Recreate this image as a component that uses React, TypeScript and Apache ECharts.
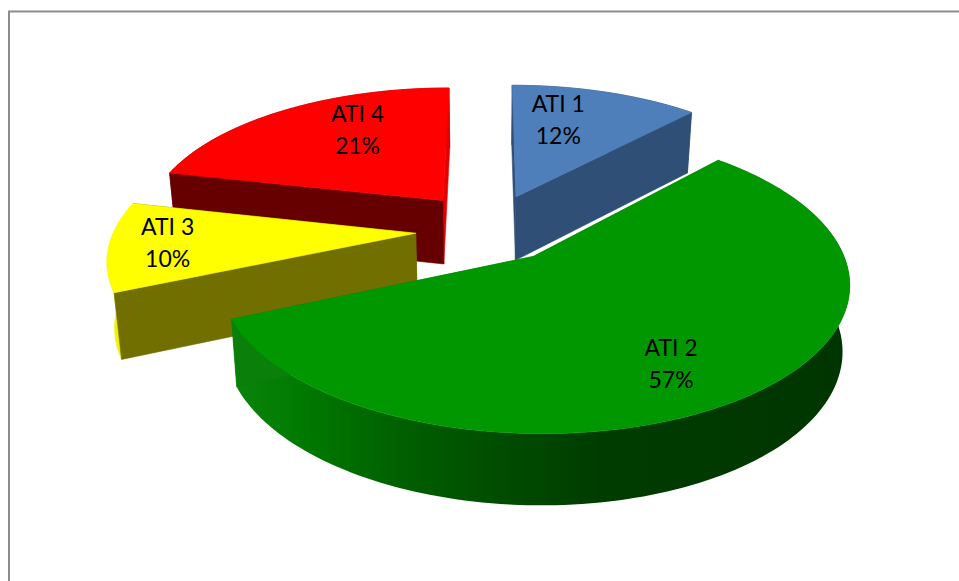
import React, { useEffect, useRef } from "react";
import * as echarts from "echarts";

const categories = ["ATI 1", "ATI 2", "ATI 3", "ATI 4"];
const values = [12, 56.5, 10, 21.49];
const topColors = ["#4e7fbb", "#009700", "#ffff00", "#ff0000"];
const cutColors = ["#2f4f77", "#0a7f0a", "#716f00", "#660000"];
const endCutColors = ["#2f4f77", "#0a7f0a", "#716f00", "#e40000"];
const rimColors = ["#2f4f77", "#006000", "#f2f200", "#8a0000"];
const explodes = [0.235, 0.26, 0.235, 0.235];
const sliceNudges = [
  [0.01, 0],
  [-0.003, 0],
  [-0.005, -0.03],
  [-0.008, 0.007],
];
const drawOrder = [3, 0, 2, 1];
const labelOffsets = [
  [0.171, 0.67],
  [0.38, -0.645],
  [-0.81, -0.059],
  [-0.335, 0.597],
];
const greenShadeStops: [number, string][] = [
  [230, "#0a840a"],
  [300, "#007a00"],
  [400, "#006000"],
  [490, "#004e00"],
  [600, "#003c00"],
  [720, "#003900"],
  [860, "#003400"],
];

const CX = 488, CY = 226, RX = 300, RY = 138, PERSP = 0.16;
const BOTTOM_SHRINK = 0.98;

function project(u: number, v: number): [number, number] {
  const s = 1 / (1 + PERSP * v);
  return [CX + RX * u * s, CY - RY * v * s];
}
function drop(p: [number, number]): [number, number] {
  return [CX + (p[0] - CX) * BOTTOM_SHRINK, p[1] + 60 + (p[1] - 100) * 0.035];
}
const greenWallFill = new echarts.graphic.LinearGradient(
  greenShadeStops[0][0],
  0,
  greenShadeStops[greenShadeStops.length - 1][0],
  0,
  greenShadeStops.map(([x, color]) => ({
    offset: (x - greenShadeStops[0][0]) / (greenShadeStops[greenShadeStops.length - 1][0] - greenShadeStops[0][0]),
    color,
  })),
  true
);

function renderSlice(_params: any, api: any) {
  const idx = api.value(0);
  const total = values.reduce((a, b) => a + b, 0);
  const before = values.slice(0, idx).reduce((a, b) => a + b, 0);
  const a0 = (before / total) * Math.PI * 2;
  const a1 = ((before + api.value(1)) / total) * Math.PI * 2;
  const mid = (a0 + a1) / 2;
  const ou = explodes[idx] * Math.sin(mid) + sliceNudges[idx][0];
  const ov = explodes[idx] * Math.cos(mid) + sliceNudges[idx][1];
  const apex = project(ou, ov);
  const steps = Math.max(8, Math.round((a1 - a0) * 40));
  const arc: [number, number][] = [];
  for (let i = 0; i <= steps; i++) {
    const a = a0 + ((a1 - a0) * i) / steps;
    arc.push(project(ou + Math.sin(a), ov + Math.cos(a)));
  }
  const children: any[] = [];
  const poly = (pts: [number, number][], fill: any, stroke: any) => ({
    type: "polygon",
    silent: true,
    shape: { points: pts },
    style: { fill, stroke, lineWidth: 0.6 },
  });
  const rimFill = idx === 1 ? greenWallFill : rimColors[idx];
  children.push(poly([...arc, ...arc.map(drop).reverse()], rimFill, idx === 1 ? "none" : rimColors[idx]));
  const startEdge = arc[0], endEdge = arc[steps];
  children.push(poly([apex, endEdge, drop(endEdge), drop(apex)], endCutColors[idx], endCutColors[idx]));
  children.push(poly([apex, startEdge, drop(startEdge), drop(apex)], cutColors[idx], cutColors[idx]));
  children.push(poly([apex, ...arc], topColors[idx], topColors[idx]));
  const off = labelOffsets[idx];
  const lp = project(ou + off[0], ov + off[1]);
  children.push({
    type: "text",
    silent: true,
    x: lp[0],
    y: lp[1],
    style: {
      text: `${categories[idx]}\n${Math.round(api.value(1))}%`,
      fontFamily: "Lato",
      fontSize: 23,
      lineHeight: 32,
      fill: "#000",
      align: "center",
      verticalAlign: "middle",
    },
  });
  return { type: "group", children };
}

export default function App() {
  const ref = useRef<HTMLDivElement>(null);
  useEffect(() => {
    const chart = echarts.init(ref.current!, undefined, { renderer: "svg" });
    chart.setOption({
      animation: false,
      backgroundColor: "#fff",
      graphic: [
        {
          type: "polyline",
          silent: true,
          shape: { points: [[9, 581], [9, 11.5], [959, 11.5]] },
          style: { fill: "none", stroke: "#8c8c8c", lineWidth: 2 },
        },
      ],
      series: [
        {
          type: "custom",
          coordinateSystem: "none",
          renderItem: renderSlice,
          data: drawOrder.map((i) => ({ name: categories[i], value: [i, values[i]] })),
        },
      ],
    });
    return () => chart.dispose();
  }, []);
  return <div ref={ref} style={{ position: "absolute", left: 0, top: 0, width: 959, height: 581 }} />;
}
